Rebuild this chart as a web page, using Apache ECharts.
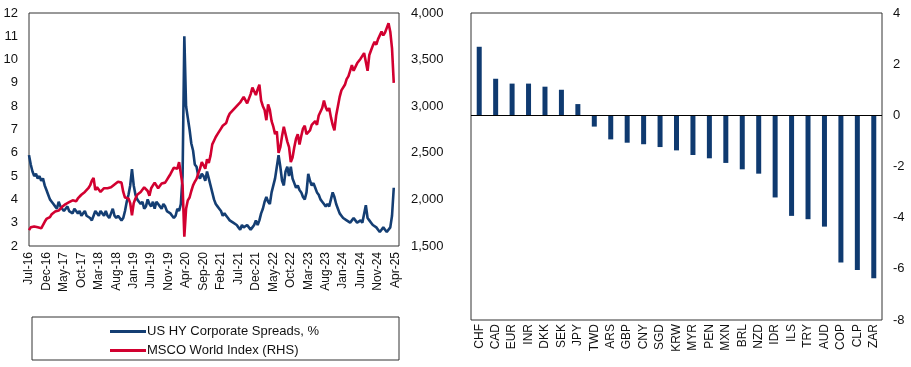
<!DOCTYPE html>
<html><head><meta charset="utf-8">
<script src="https://cdn.jsdelivr.net/npm/echarts@6/dist/echarts.min.js"></script>
<style>html,body{margin:0;padding:0;background:#fff}#c{width:911px;height:367px}</style>
</head><body><div id="c"></div><script>
// Month tick labels (every 5 months from Jul-16)
const xTickLabels = ['Jul-16','Dec-16','May-17','Oct-17','Mar-18','Aug-18','Jan-19','Jun-19','Nov-19','Apr-20','Sep-20','Feb-21','Jul-21','Dec-21','May-22','Oct-22','Mar-23','Aug-23','Jan-24','Jun-24','Nov-24','Apr-25'];
// Semi-monthly observations starting Jul-2016 (step = half month)
const hySpreads = [
5.9,5.5, 5.2,5.0, 5.1,4.9, 5.0,4.8, 4.9,4.6, 4.4,4.2, 4.0,3.9, 3.8,3.7, 3.6,3.9, 3.7,3.6,
3.5,3.6, 3.7,3.5, 3.5,3.4, 3.6,3.5, 3.4,3.5, 3.3,3.4, 3.5,3.3, 3.3,3.2, 3.1,3.3, 3.5,3.4,
3.3,3.5, 3.4,3.3, 3.5,3.3, 3.2,3.4, 3.6,3.3, 3.2,3.3, 3.3,3.1, 3.2,3.5, 3.9,4.2, 4.6,5.3,
4.6,4.2, 4.0,3.9, 3.8,3.9, 3.6,3.7, 4.0,3.8, 3.7,3.9, 3.6,3.9, 3.8,3.7, 3.6,3.8, 3.7,3.5,
3.5,3.4, 3.3,3.2, 3.3,3.6, 3.5,3.8, 5.0,11.0, 8.0,7.5, 7.0,6.4, 6.1,5.5, 5.4,5.0, 4.9,5.1,
5.0,4.8, 5.2,4.9, 4.6,4.3, 4.0,3.8, 3.7,3.6, 3.5,3.3, 3.4,3.3, 3.2,3.1, 3.1,3.0, 3.0,2.9,
2.8,2.7, 2.9,2.8, 2.8,2.9, 2.8,2.7, 2.8,2.9, 3.1,2.9, 3.1,3.4, 3.6,3.9, 4.1,3.9, 3.8,4.3,
4.6,4.9, 5.4,5.9, 5.4,4.8, 4.6,5.2, 5.4,5.0, 5.4,4.9, 4.7,4.5, 4.6,4.4, 4.3,4.1, 4.0,4.3,
5.1,4.8, 4.6,4.7, 4.5,4.3, 4.2,4.0, 3.9,3.8, 3.7,3.8, 3.7,4.0, 4.3,4.1, 3.8,3.6, 3.4,3.3,
3.2,3.2, 3.1,3.1, 3.0,3.1, 3.2,3.1, 3.0,3.0, 3.1,3.0, 3.0,3.75, 3.2,3.1, 3.0,2.9, 2.9,2.8,
2.7,2.6, 2.7,2.8, 2.7,2.6, 2.6,2.8, 3.3,4.5];
const msciWorld = [
1670,1700, 1720,1710, 1730,1700, 1720,1690, 1700,1760, 1790,1800, 1810,1840, 1860,1870, 1890,1880, 1890,1920,
1940,1950, 1950,1970, 1960,1990, 1990,1980, 2010,2030, 2050,2060, 2080,2100, 2120,2150, 2200,2230, 2100,2130,
2110,2080, 2090,2120, 2130,2120, 2140,2130, 2150,2160, 2170,2190, 2190,2180, 2080,2020, 2030,2010, 1960,1830,
1960,2010, 2050,2070, 2080,2090, 2130,2150, 2090,2040, 2120,2150, 2180,2190, 2120,2140, 2170,2180, 2180,2210,
2240,2270, 2290,2340, 2360,2330, 2400,2420, 2150,1600, 1900,1990, 2020,2090, 2150,2190, 2220,2280, 2330,2400,
2410,2330, 2430,2390, 2470,2590, 2630,2670, 2700,2690, 2760,2790, 2770,2820, 2880,2920, 2900,2960, 2980,3000,
3020,3040, 3060,3100, 3120,3030, 3010,3130, 3200,3220, 3120,3180, 3230,3060, 3000,2960, 2850,3020, 2960,2840,
2780,2700, 2730,2500, 2560,2680, 2780,2800, 2620,2560, 2400,2450, 2560,2650, 2700,2590, 2680,2760, 2790,2700,
2680,2740, 2800,2820, 2840,2800, 2900,2940, 2980,3060, 2990,2950, 2980,2880, 2800,2740, 2900,3000, 3100,3170,
3150,3230, 3290,3320, 3380,3440, 3380,3360, 3460,3480, 3510,3540, 3570,3580, 3380,3550, 3600,3650, 3690,3660,
3720,3760, 3800,3760, 3790,3840, 3890,3800, 3620,3250];
const currencies = ['CHF','CAD','EUR','INR','DKK','SEK','JPY','TWD','ARS','GBP','CNY','SGD','KRW','MYR','PEN','MXN','BRL','NZD','IDR','ILS','TRY','AUD','COP','CLP','ZAR'];
const currencyValues = [2.68,1.43,1.24,1.24,1.12,1.0,0.44,-0.44,-0.94,-1.07,-1.13,-1.24,-1.37,-1.55,-1.68,-1.86,-2.11,-2.28,-3.21,-3.93,-4.06,-4.35,-5.75,-6.05,-6.37];

const FONT = 'Liberation Sans';
const chart = echarts.init(document.getElementById('c'));
const lab = {color:'#111', fontFamily:FONT, fontSize:13};
chart.setOption({
  animation:false,
  textStyle:{fontFamily:FONT},
  grid:[
    {left:29, top:13, width:370, height:233, show:true, borderColor:'#333', borderWidth:1},
    {left:471, top:13, width:411, height:307, show:true, borderColor:'#333', borderWidth:1}
  ],
  legend:{
    data:['US HY Corporate Spreads, %','MSCO World Index (RHS)'],
    orient:'vertical', left:105, top:320, itemWidth:36, itemHeight:3, itemGap:6, icon:'rect',
    textStyle:{color:'#111', fontFamily:FONT, fontSize:13, padding:[0,0,0,-4]}
  },
  graphic:[{type:'rect', shape:{x:32, y:317, width:367, height:43}, style:{fill:'none', stroke:'#333', lineWidth:1}, silent:true}],
  xAxis:[
    {type:'value', gridIndex:0, min:0, max:106, interval:5,
     axisLine:{show:false}, axisTick:{show:false}, splitLine:{show:false},
     axisLabel:{rotate:90, margin:6, fontSize:12, color:'#111', fontFamily:FONT,
       formatter:v=>{const k=v/5; return Number.isInteger(k)&&xTickLabels[k]?xTickLabels[k]:'';}}},
    {type:'category', gridIndex:1, data:currencies, boundaryGap:true,
     axisLine:{show:false, onZero:false}, axisTick:{show:false},
     axisLabel:{rotate:90, margin:4, interval:0, fontSize:12, color:'#111', fontFamily:FONT}}
  ],
  yAxis:[
    {type:'value', gridIndex:0, position:'left', min:2, max:12, interval:1,
     axisLine:{show:false}, axisTick:{show:false}, splitLine:{show:false},
     axisLabel:Object.assign({margin:11}, lab)},
    {type:'value', gridIndex:0, position:'right', min:1500, max:4000, interval:500,
     axisLine:{show:false}, axisTick:{show:false}, splitLine:{show:false},
     axisLabel:Object.assign({margin:12, formatter:v=>v.toLocaleString('en-US')}, lab)},
    {type:'value', gridIndex:1, position:'right', min:-8, max:4, interval:2,
     axisLine:{show:false}, axisTick:{show:false}, splitLine:{show:false},
     axisLabel:Object.assign({margin:11}, lab)}
  ],
  series:[
    {name:'US HY Corporate Spreads, %', type:'line', xAxisIndex:0, yAxisIndex:0,
     data:hySpreads.map((v,i)=>[i/2,v]), showSymbol:false, color:'#143E73',
     lineStyle:{width:2.6, color:'#143E73'}},
    {name:'MSCO World Index (RHS)', type:'line', xAxisIndex:0, yAxisIndex:1,
     data:msciWorld.map((v,i)=>[i/2,v]), showSymbol:false, color:'#D20030',
     lineStyle:{width:2.6, color:'#D20030'}},
    {name:'FX', type:'bar', xAxisIndex:1, yAxisIndex:2, data:currencyValues, barWidth:5,
     itemStyle:{color:'#0F3A70'},
     markLine:{silent:true, symbol:'none', label:{show:false},
       lineStyle:{color:'#000', width:1.2, type:'solid'}, data:[{yAxis:0}]}}
  ]
});
</script></body></html>
